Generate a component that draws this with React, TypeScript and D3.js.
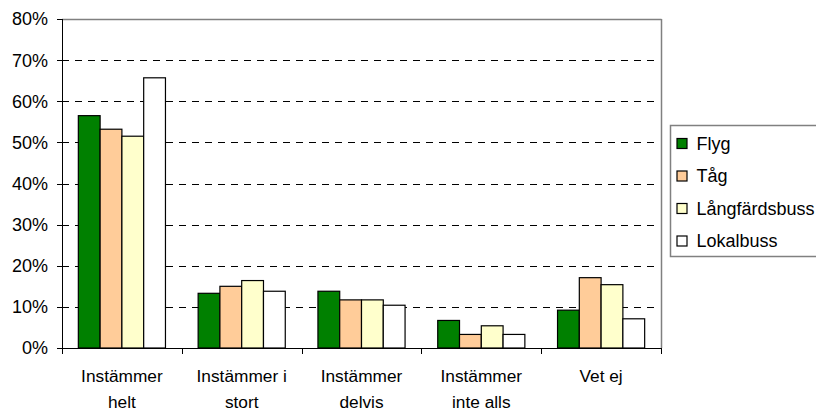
import React from "react";
import * as d3 from "d3";

const categories: string[][] = [
  ["Instämmer", "helt"],
  ["Instämmer i", "stort"],
  ["Instämmer", "delvis"],
  ["Instämmer", "inte alls"],
  ["Vet ej"],
];
const seriesNames = ["Flyg", "Tåg", "Långfärdsbuss", "Lokalbuss"];
const seriesColors = ["#008000", "#FFCC99", "#FFFFCC", "#FFFFFF"];
const flyg = [56.5, 13.3, 13.8, 6.7, 9.2];
const tag = [53.2, 15.0, 11.7, 3.3, 17.1];
const langfardsbuss = [51.5, 16.4, 11.7, 5.4, 15.4];
const lokalbuss = [65.7, 13.8, 10.4, 3.3, 7.1];
const seriesValues = [flyg, tag, langfardsbuss, lokalbuss];
const yTicks = [0, 10, 20, 30, 40, 50, 60, 70, 80];

const W = 816;
const H = 410;
const left = 62;
const right = 661;
const top = 19;
const bottom = 348;
const font = "'Liberation Sans', Arial, sans-serif";

export default function App() {
  const x = d3
    .scaleBand<number>()
    .domain(categories.map((_, i) => i))
    .range([left, right])
    .paddingInner(0)
    .paddingOuter(0);
  const y = d3.scaleLinear().domain([0, 80]).range([bottom, top]);
  const bw = x.bandwidth() / 5.5;
  const inner = d3
    .scaleBand<number>()
    .domain(seriesNames.map((_, i) => i))
    .range([0, bw * 4]);

  return (
    <svg
      width={W}
      height={H}
      style={{ position: "absolute", left: 0, top: 0, display: "block" }}
      fontFamily={font}
    >
      <rect x={0} y={0} width={W} height={H} fill="#fff" />
      {/* gridlines */}
      {yTicks
        .filter((t) => t > 0 && t < 80)
        .map((t) => (
          <line
            key={t}
            x1={left}
            x2={right - 6}
            y1={Math.round(y(t)) + 0.5}
            y2={Math.round(y(t)) + 0.5}
            stroke="#000"
            strokeWidth={1}
            strokeDasharray="7,6"
          />
        ))}
      {/* plot border top/right */}
      <line x1={left} x2={right + 0.5} y1={Math.round(y(80)) + 0.5} y2={Math.round(y(80)) + 0.5} stroke="#808080" strokeWidth={1.5} />
      <line x1={right + 0.5} x2={right + 0.5} y1={y(80)} y2={bottom} stroke="#808080" strokeWidth={1.5} />
      {/* bars */}
      {categories.map((_, ci) =>
        seriesValues.map((vals, si) => {
          const x0 = (x(ci) as number) + bw * 0.75 + (inner(si) as number);
          return (
            <rect
              key={`${ci}-${si}`}
              x={x0}
              y={y(vals[ci])}
              width={bw}
              height={bottom - y(vals[ci])}
              fill={seriesColors[si]}
              stroke="#000"
              strokeWidth={1.2}
            />
          );
        })
      )}
      {/* axes */}
      <line x1={left + 0.5} x2={left + 0.5} y1={y(80)} y2={bottom} stroke="#000" strokeWidth={1} />
      <line x1={left} x2={right + 1} y1={bottom + 0.5} y2={bottom + 0.5} stroke="#000" strokeWidth={1} />
      {yTicks.map((t) => (
        <g key={t}>
          <line x1={left - 5} x2={left} y1={Math.round(y(t)) + 0.5} y2={Math.round(y(t)) + 0.5} stroke="#000" />
          <text
            x={left - 14}
            y={y(t)}
            dy="0.36em"
            textAnchor="end"
            fontSize={18}
            fill="#000"
          >
            {t}%
          </text>
        </g>
      ))}
      {d3.range(categories.length + 1).map((i) => {
        const xx = i < categories.length ? (x(i) as number) : right;
        return (
          <line
            key={i}
            x1={Math.round(xx) + 0.5}
            x2={Math.round(xx) + 0.5}
            y1={bottom}
            y2={bottom + 6}
            stroke="#000"
          />
        );
      })}
      {categories.map((lines, ci) => (
        <text
          key={ci}
          x={(x(ci) as number) + x.bandwidth() / 2}
          y={381.5}
          textAnchor="middle"
          fontSize={17.3}
          fill="#000"
        >
          {lines.map((l, li) => (
            <tspan key={li} x={(x(ci) as number) + x.bandwidth() / 2} dy={li === 0 ? 0 : 26}>
              {l}
            </tspan>
          ))}
        </text>
      ))}
      {/* legend */}
      <rect x={670.5} y={125.5} width={200} height={131} fill="#fff" stroke="#808080" strokeWidth={1.5} />
      {seriesNames.map((n, i) => {
        const cy = 143.5 + i * 32.5;
        return (
          <g key={n}>
            <rect x={677} y={cy - 5} width={10} height={10} fill={seriesColors[i]} stroke="#000" strokeWidth={1.2} />
            <text x={696.5} y={cy} dy="0.36em" fontSize={18} fill="#000">
              {n}
            </text>
          </g>
        );
      })}
    </svg>
  );
}
